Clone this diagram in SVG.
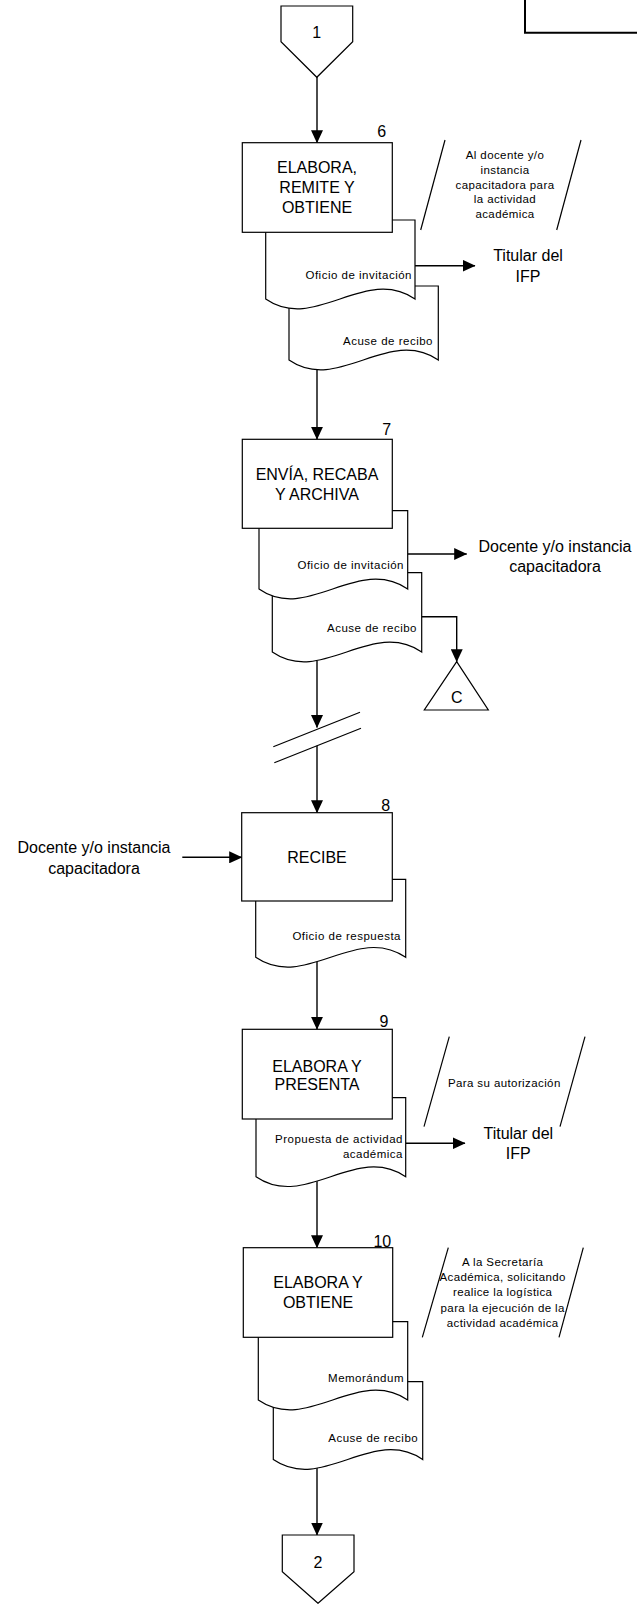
<svg xmlns="http://www.w3.org/2000/svg" width="637" height="1604" viewBox="0 0 637 1604">
<style>
text{font-family:"Liberation Sans",Arial,sans-serif;fill:#000}
.big{font-size:16px;text-anchor:middle}
.num{font-size:16px;text-anchor:middle}
.sm{font-size:11.5px;letter-spacing:0.5px}
.smr{font-size:11.5px;letter-spacing:0.5px;text-anchor:end}
.smc{font-size:11.5px;letter-spacing:0.4px;text-anchor:middle}
.shape{fill:#fff;stroke:#000;stroke-width:1.2}
.ln{fill:none;stroke:#000;stroke-width:1.2}
.conn{fill:none;stroke:#000;stroke-width:1.4}
</style>
<defs>
<marker id="arr" markerUnits="userSpaceOnUse" markerWidth="13" markerHeight="12" refX="12.5" refY="6" orient="auto">
<path d="M0,0 L13,6 L0,12 z" fill="#000"/>
</marker>
</defs>

<g id="frame-top-right">
<path d="M525,-2 V32.7 H640" fill="none" stroke="#000" stroke-width="2"/>
</g>

<g id="connectors">
<line class="conn" x1="317" y1="77" x2="317" y2="142.7" marker-end="url(#arr)"/>
<line class="conn" x1="317" y1="362" x2="317" y2="439.3" marker-end="url(#arr)"/>
<line class="conn" x1="415" y1="265.7" x2="475" y2="265.7" marker-end="url(#arr)"/>
<line class="conn" x1="317" y1="655" x2="317" y2="727.5" marker-end="url(#arr)"/>
<line class="conn" x1="407.7" y1="554" x2="466.7" y2="554" marker-end="url(#arr)"/>
<polyline class="conn" points="421.7,616.7 456.7,616.7 456.7,661.7" marker-end="url(#arr)"/>
<line class="ln" x1="273.3" y1="746.7" x2="360" y2="712.3"/>
<line class="ln" x1="274.3" y1="762.7" x2="361" y2="728.3"/>
<line class="conn" x1="317" y1="745.8" x2="317" y2="812.7" marker-end="url(#arr)"/>
<line class="conn" x1="182.3" y1="857.3" x2="241.7" y2="857.3" marker-end="url(#arr)"/>
<line class="conn" x1="317" y1="960" x2="317" y2="1029.3" marker-end="url(#arr)"/>
<line class="conn" x1="405.7" y1="1143.3" x2="465" y2="1143.3" marker-end="url(#arr)"/>
<line class="conn" x1="317" y1="1178" x2="317" y2="1247.7" marker-end="url(#arr)"/>
<line class="conn" x1="317" y1="1462" x2="317" y2="1535" marker-end="url(#arr)"/>
</g>

<g id="offpage-1">
<polygon class="shape" points="281,6 352.7,6 352.7,41.7 316.8,77.3 281,41.7"/>
<text class="num" x="316.8" y="38">1</text>
</g>

<g id="doc-6b">
<path class="shape" d="M289,286 H438.3 V360 C388.3,326 338.3,394 289,360 Z"/>
<text class="smr" x="433" y="345">Acuse de recibo</text>
</g>
<g id="doc-6a">
<path class="shape" d="M265.7,220 H415 V299 C365,265 315,333 265.7,299 Z"/>
<text class="smr" x="412" y="279">Oficio de invitación</text>
</g>
<g id="step-6">
<rect class="shape" x="242.3" y="142.7" width="150" height="89.6"/>
<text class="big" x="317" y="172.5">ELABORA,</text>
<text class="big" x="317" y="192.5">REMITE Y</text>
<text class="big" x="317" y="212.5">OBTIENE</text>
<text class="num" x="381.7" y="137">6</text>
</g>
<g id="annotation-6">
<line class="ln" x1="445" y1="140" x2="420.7" y2="230"/>
<line class="ln" x1="581" y1="140" x2="556.7" y2="230"/>
<text class="smc" x="505" y="159">Al docente y/o</text>
<text class="smc" x="505" y="173.8">instancia</text>
<text class="smc" x="505" y="188.6">capacitadora para</text>
<text class="smc" x="505" y="203.4">la actividad</text>
<text class="smc" x="505" y="218.2">académica</text>
</g>
<g id="label-titular-1">
<text class="big" x="528" y="261">Titular del</text>
<text class="big" x="528" y="281.5">IFP</text>
</g>

<g id="doc-7b">
<path class="shape" d="M272.3,572.7 H421.7 V652 C371.7,618 321.7,686 272.3,652 Z"/>
<text class="smr" x="417" y="632.3">Acuse de recibo</text>
</g>
<g id="doc-7a">
<path class="shape" d="M259,510.7 H407.7 V589 C357.7,555 307.7,623 259,589 Z"/>
<text class="smr" x="404" y="569.3">Oficio de invitación</text>
</g>
<g id="step-7">
<rect class="shape" x="242.3" y="439.3" width="150" height="89"/>
<text class="big" x="317" y="480">ENVÍA, RECABA</text>
<text class="big" x="317" y="499.5">Y ARCHIVA</text>
<text class="num" x="386.7" y="435">7</text>
</g>
<g id="label-docente-1">
<text class="big" x="555" y="551.5">Docente y/o instancia</text>
<text class="big" x="555" y="571.5">capacitadora</text>
</g>
<g id="archive-c">
<polygon class="shape" points="456.7,661.7 424.3,710 488.3,710"/>
<text class="num" x="456.7" y="702.5">C</text>
</g>

<g id="label-docente-2">
<text class="big" x="94" y="852.5">Docente y/o instancia</text>
<text class="big" x="94" y="874">capacitadora</text>
</g>
<g id="doc-8">
<path class="shape" d="M255.7,879.3 H405.7 V957.3 C355.7,923.3 305.7,991.3 255.7,957.3 Z"/>
<text class="smr" x="401" y="940">Oficio de respuesta</text>
</g>
<g id="step-8">
<rect class="shape" x="241.7" y="812.7" width="150.6" height="88.3"/>
<text class="big" x="317" y="862.5">RECIBE</text>
<text class="num" x="385.7" y="811">8</text>
</g>

<g id="doc-9">
<path class="shape" d="M256,1097.7 H405.7 V1176.7 C355.7,1142.7 305.7,1210.7 256,1176.7 Z"/>
<text class="smr" x="403" y="1143.3">Propuesta de actividad</text>
<text class="smr" x="403" y="1157.7">académica</text>
</g>
<g id="step-9">
<rect class="shape" x="242.3" y="1029.3" width="150" height="89.7"/>
<text class="big" x="317" y="1071.5">ELABORA Y</text>
<text class="big" x="317" y="1090">PRESENTA</text>
<text class="num" x="384" y="1027.3">9</text>
</g>
<g id="annotation-9">
<line class="ln" x1="449.3" y1="1036.7" x2="424" y2="1126.7"/>
<line class="ln" x1="585" y1="1036.7" x2="560" y2="1126.7"/>
<text class="smc" x="504.3" y="1086.5">Para su autorización</text>
</g>
<g id="label-titular-2">
<text class="big" x="518.3" y="1139">Titular del</text>
<text class="big" x="518.3" y="1159">IFP</text>
</g>

<g id="doc-10b">
<path class="shape" d="M273.3,1381.7 H422.7 V1459.5 C372.7,1425.5 322.7,1493.5 273.3,1459.5 Z"/>
<text class="smr" x="418.2" y="1442.3">Acuse de recibo</text>
</g>
<g id="doc-10a">
<path class="shape" d="M258.3,1321.7 H407.7 V1400 C357.7,1366 307.7,1434 258.3,1400 Z"/>
<text class="smr" x="404" y="1382.3">Memorándum</text>
</g>
<g id="step-10">
<rect class="shape" x="243.3" y="1247.7" width="149.4" height="89.6"/>
<text class="big" x="318" y="1288">ELABORA Y</text>
<text class="big" x="318" y="1307.5">OBTIENE</text>
<text class="num" x="382.3" y="1246.7">10</text>
</g>
<g id="annotation-10">
<line class="ln" x1="448.3" y1="1247.7" x2="422.3" y2="1337.3"/>
<line class="ln" x1="583.3" y1="1247.7" x2="559" y2="1337.3"/>
<text class="smc" x="502.7" y="1265.7">A la Secretaría</text>
<text class="smc" x="502.7" y="1281">Académica, solicitando</text>
<text class="smc" x="502.7" y="1296.3">realice la logística</text>
<text class="smc" x="502.7" y="1312">para la ejecución de la</text>
<text class="smc" x="502.7" y="1327.3">actividad académica</text>
</g>

<g id="offpage-2">
<polygon class="shape" points="282.3,1535 354,1535 354,1571.7 318,1603.3 282.3,1571.7"/>
<text class="num" x="318" y="1567.5">2</text>
</g>
</svg>
